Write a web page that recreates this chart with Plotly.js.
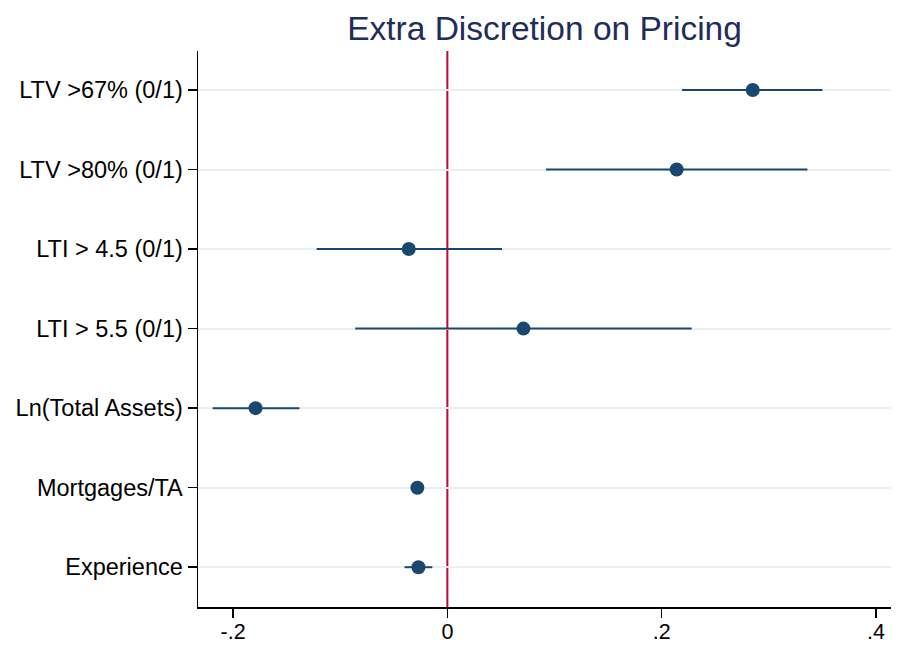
<!DOCTYPE html>
<html>
<head>
<meta charset="utf-8">
<script src="https://cdn.plot.ly/plotly-3.0.1.min.js"></script>
<style>html,body{margin:0;padding:0;background:#fff;}#chart{width:899px;height:649px;}</style>
</head>
<body>
<div id="chart"></div>
<script>
const categories = ["LTV >67% (0/1)", "LTV >80% (0/1)", "LTI > 4.5 (0/1)", "LTI > 5.5 (0/1)", "Ln(Total Assets)", "Mortgages/TA", "Experience"];
const estimates = [0.285, 0.214, -0.036, 0.071, -0.179, -0.028, -0.027];
const ciLow = [0.219, 0.092, -0.122, -0.086, -0.219, -0.033, -0.040];
const ciHigh = [0.350, 0.336, 0.051, 0.228, -0.138, -0.023, -0.014];
const xTickVals = [-0.2, 0, 0.2, 0.4];
const xTickText = ["-.2", "0", ".2", ".4"];
const referenceX = 0;

const positions = categories.map((c, i) => i + 1);
const navy = "#1a476f";
const fontFam = "Liberation Sans, Arial, sans-serif";

const trace = {
  type: "scatter",
  mode: "markers",
  x: estimates,
  y: positions,
  marker: {color: navy, size: 14},
  error_x: {
    type: "data",
    symmetric: false,
    array: estimates.map((e, i) => ciHigh[i] - e),
    arrayminus: estimates.map((e, i) => e - ciLow[i]),
    color: navy,
    thickness: 2,
    width: 0
  },
  hoverinfo: "x+y",
  showlegend: false
};

const layout = {
  width: 899,
  height: 649,
  margin: {l: 198, r: 8, t: 51, b: 42},
  paper_bgcolor: "#ffffff",
  plot_bgcolor: "#ffffff",
  font: {family: fontFam, color: "#000000"},
  title: {
    text: "Extra Discretion on Pricing",
    font: {family: fontFam, size: 33.5, color: "#1e2d5a"},
    x: 0.5, xref: "paper", y: 0.957, yref: "container", xanchor: "center", yanchor: "middle"
  },
  xaxis: {
    range: [-0.2327, 0.414],
    tickvals: xTickVals,
    ticktext: xTickText,
    ticks: "outside",
    ticklen: 9,
    tickwidth: 1.5,
    tickcolor: "#000",
    ticklabelstandoff: -4,
    showgrid: false,
    zeroline: false,
    showline: true,
    linecolor: "#000",
    linewidth: 1.5,
    tickfont: {size: 21.5, family: fontFam, color: "#000"}
  },
  yaxis: {
    range: [7.5, 0.51],
    tickvals: positions,
    ticktext: categories,
    ticks: "outside",
    ticklen: 9,
    tickwidth: 1.5,
    tickcolor: "#000",
    showgrid: true,
    gridcolor: "#e8f0f2",
    gridwidth: 2,
    zeroline: false,
    showline: true,
    linecolor: "#000",
    linewidth: 1.5,
    tickfont: {size: 23.5, family: fontFam, color: "#000"}
  },
  shapes: [{
    type: "line",
    xref: "x", yref: "paper",
    x0: referenceX, x1: referenceX, y0: 0, y1: 1,
    line: {color: "#c10534", width: 2},
    layer: "below"
  }]
};

Plotly.newPlot("chart", [trace], layout, {displayModeBar: false, staticPlot: true});
</script>
</body>
</html>
